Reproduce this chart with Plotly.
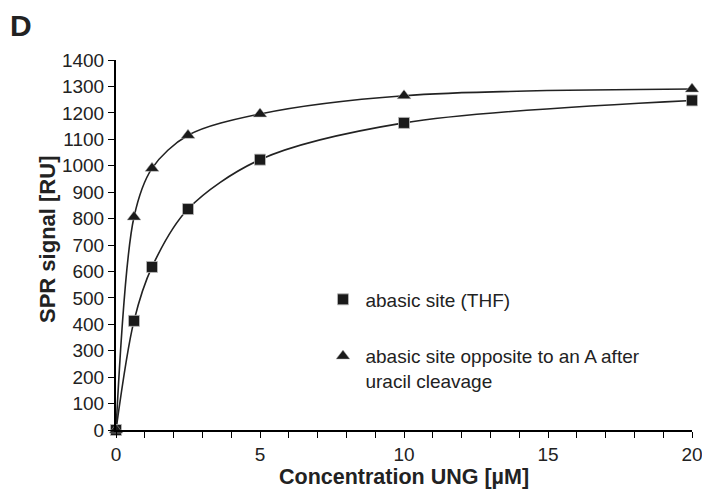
import plotly.graph_objects as go

# Data
conc = [0, 0.625, 1.25, 2.5, 5, 10, 20]
thf_signal = [0, 413, 617, 836, 1023, 1162, 1247]
ura_signal = [0, 806, 990, 1115, 1196, 1265, 1290]

x_tickvals = list(range(0, 21))
x_ticktext = [str(v) if v % 5 == 0 else "" for v in x_tickvals]
y_tickvals = list(range(0, 1401, 100))

series_names = ["abasic site (THF)", "abasic site opposite to an A after<br>uracil cleavage"]

FONT = "Liberation Sans, Arial, sans-serif"
DARK = "#1a1a1a"

fig = go.Figure()

# smooth curves through the points
for ys in (thf_signal, ura_signal):
    fig.add_trace(go.Scatter(
        x=conc, y=ys, mode="lines", line=dict(color="#222222", width=1.6, shape="spline", smoothing=0.9),
        showlegend=False, hoverinfo="skip", cliponaxis=False))

fig.add_trace(go.Scatter(
    x=conc, y=thf_signal, mode="markers", name=series_names[0], legendgroup="a",
    marker=dict(symbol="square", size=11, color=DARK, line=dict(color="#bbbbbb", width=0.8)),
    cliponaxis=False))
fig.add_trace(go.Scatter(
    x=conc, y=ura_signal, mode="markers", name=series_names[1], legendgroup="b",
    marker=dict(symbol="triangle-up", size=12, color=DARK, line=dict(color="#bbbbbb", width=0.5)),
    cliponaxis=False))

fig.update_layout(
    width=702, height=491,
    margin=dict(l=116, r=10, t=60, b=61, autoexpand=False),
    paper_bgcolor="white", plot_bgcolor="white",
    font=dict(family=FONT, size=19, color="#222222"),
    showlegend=True,
    legend=dict(x=0.355, y=0.404, xanchor="left", yanchor="top", valign="top",
                bgcolor="rgba(0,0,0,0)", font=dict(size=19, family=FONT, color="#222222"),
                tracegroupgap=29, traceorder="grouped", itemwidth=35),
    xaxis=dict(range=[0, 20], tickvals=x_tickvals, ticktext=x_ticktext, ticks="outside",
               ticklen=6, tickwidth=1.2, tickcolor="black", showline=True, linecolor="black",
               linewidth=2, showgrid=False, zeroline=False, ticklabeloverflow="allow",
               automargin=False,
               tickfont=dict(size=19, family=FONT, color="#222222")),
    yaxis=dict(range=[0, 1400], tickvals=y_tickvals, ticks="outside",
               ticklen=6, tickwidth=1.2, tickcolor="black", showline=True, linecolor="black",
               linewidth=2, showgrid=False, zeroline=False, automargin=False,
               tickfont=dict(size=19, family=FONT, color="#222222")),
    annotations=[
        dict(text="<b>Concentration UNG [µM]</b>", xref="paper", yref="paper", x=0.5, y=0,
             yshift=-47, xanchor="center", yanchor="middle", showarrow=False,
             font=dict(size=21.5, family=FONT, color="#222222")),
        dict(text="<b>SPR signal [RU]</b>", xref="paper", yref="paper", x=0, y=0.5,
             xshift=-69, yshift=5, xanchor="center", yanchor="middle", textangle=-90, showarrow=False,
             font=dict(size=22, family=FONT, color="#222222")),
        dict(text="<b>D</b>", xref="paper", yref="paper", x=0, y=1, xshift=-108, yshift=35,
             xanchor="left", yanchor="middle", showarrow=False,
             font=dict(size=30, family=FONT, color="#222222")),
    ],
)

fig.write_html("out.html")
